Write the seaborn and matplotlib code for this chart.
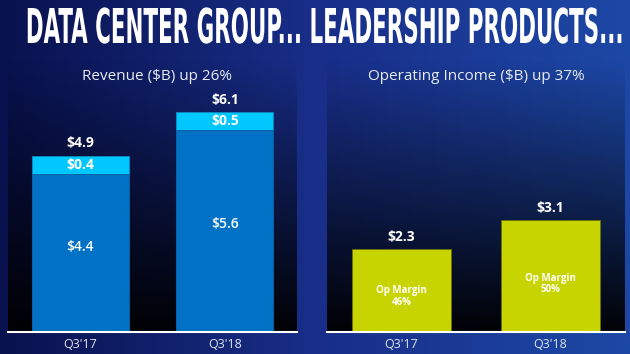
import numpy as np
import pandas as pd
import matplotlib
matplotlib.use("Agg")
import matplotlib.pyplot as plt
import seaborn as sns
from matplotlib.colors import to_rgb
from matplotlib.patheffects import AbstractPathEffect
from matplotlib.transforms import Affine2D

# ---- data ----
quarters = ["Q3'17", "Q3'18"]
revenue_total = [4.9, 6.1]
revenue_core = [4.4, 5.6]
revenue_adj = [0.4, 0.5]
op_income = [2.3, 3.1]
op_margin = [46, 50]

title = "DATA CENTER GROUP... LEADERSHIP PRODUCTS..."
rev_title = "Revenue ($B) up 26%"
op_title = "Operating Income ($B) up 37%"

# ---- style ----
plt.rcParams["font.family"] = ["Open Sans", "DejaVu Sans"]
DARK = "#0071C5"
LIGHT = "#00C7FD"
GREEN = "#C8D400"

W, H = 630, 354
fig = plt.figure(figsize=(W / 100, H / 100), dpi=100)
fig.patch.set_facecolor("#0d1a60")

# slide background gradient
bg = fig.add_axes([0, 0, 1, 1], zorder=-10)
xs = np.linspace(0, 1, 256)
stops = [0.0, 0.5, 1.0]
cols = np.array([to_rgb("#09124e"), to_rgb("#182e88"), to_rgb("#1d48a6")])
grad = np.stack([np.interp(xs, stops, cols[:, i]) for i in range(3)], axis=-1)
bg.imshow(np.tile(grad[None, :, :], (32, 1, 1)), aspect="auto", extent=[0, 1, 0, 1])
bg.set_axis_off()


def px_axes(x0, x1, ytop, ybot):
    return [x0 / W, 1 - ybot / H, (x1 - x0) / W, (ybot - ytop) / H]


YMAX = (332 - 60) / 36.0


def panel(ax):
    ax.patch.set_alpha(0)
    a = np.linspace(0, 0.97, 128)
    shade = np.zeros((128, 1, 4))
    shade[:, 0, 3] = a
    ax.imshow(shade, aspect="auto", extent=[-0.5, 1.5, 0, YMAX], zorder=0,
              origin="upper")


def finish(ax):
    ax.set_xlim(-0.5, 1.5)
    ax.set_ylim(0, YMAX)
    ax.set_xlabel("")
    ax.set_ylabel("")
    ax.set_yticks([])
    ax.set_xticks([0, 1])
    ax.set_xticklabels(quarters)
    ax.tick_params(axis="x", length=0, pad=4, labelsize=9, labelcolor="#dfe4ee")
    for s in ["left", "right", "top"]:
        ax.spines[s].set_visible(False)
    ax.spines["bottom"].set_color("white")
    ax.spines["bottom"].set_linewidth(1.5)
    ax.spines["bottom"].set_zorder(5)


# ---- revenue panel ----
ax1 = fig.add_axes(px_axes(8, 297, 60, 332))
panel(ax1)
rev_df = pd.DataFrame({"quarter": quarters, "total": revenue_total,
                       "core": revenue_core, "adj": revenue_adj})
sns.barplot(data=rev_df, x="quarter", y="total", color=LIGHT, saturation=1,
            width=0.67, ax=ax1, zorder=2, edgecolor="#0a8cc0", linewidth=0.6)
sns.barplot(data=rev_df, x="quarter", y="core", color=DARK, saturation=1,
            width=0.67, ax=ax1, zorder=3, edgecolor="#0b5a9a", linewidth=0.6)
finish(ax1)
for i in range(len(quarters)):
    ax1.annotate(f"${revenue_total[i]}", (i, revenue_total[i]), xytext=(0, 9),
                 textcoords="offset points", ha="center", va="center",
                 color="white", fontsize=10, fontweight="bold")
    ax1.text(i, (revenue_core[i] + revenue_total[i]) / 2, f"${revenue_adj[i]}",
             ha="center", va="center", color="white", fontsize=10,
             fontweight="bold", zorder=6)
    ax1.text(i, revenue_core[i] * 0.535, f"${revenue_core[i]}",
             ha="center", va="center", color="white", fontsize=10,
             fontweight="semibold", zorder=6)

# ---- operating income panel ----
ax2 = fig.add_axes(px_axes(327, 625, 60, 332))
panel(ax2)
op_df = pd.DataFrame({"quarter": quarters, "income": op_income,
                      "margin": op_margin})
sns.barplot(data=op_df, x="quarter", y="income", color=GREEN, saturation=1,
            width=0.67, ax=ax2, zorder=2, edgecolor="#6b7000", linewidth=0.6)
finish(ax2)
for i in range(len(quarters)):
    ax2.annotate(f"${op_income[i]}", (i, op_income[i]), xytext=(0, 9),
                 textcoords="offset points", ha="center", va="center",
                 color="white", fontsize=10, fontweight="bold")
    ax2.text(i, op_income[i] * 0.43, f"Op Margin\n{op_margin[i]}%",
             ha="center", va="center", color="white", fontsize=7,
             fontweight="bold", linespacing=1.1, zorder=6)


# ---- headline: condensed look via vertical stretch of the real text ----
class VStretch(AbstractPathEffect):
    def __init__(self, sy):
        super().__init__()
        self.sy = sy

    def draw_path(self, renderer, gc, tpath, affine, rgbFace=None):
        renderer.draw_path(gc, tpath, Affine2D().scale(1, self.sy) + affine, rgbFace)


head = fig.text(324 / W, 1 - 43 / H, title, ha="center", va="baseline",
                color="white", fontsize=20, fontweight="bold",
                fontstretch="condensed", family=["DejaVu Sans"])
fig.canvas.draw()
w = head.get_window_extent(fig.canvas.get_renderer()).width
size = 20 * 596.0 / w
head.set_fontsize(size)
cap_px = 0.729 * size * 100 / 72
head.set_path_effects([VStretch(35.0 / cap_px)])

fig.text(157 / W, 1 - 77 / H, rev_title, ha="center", va="center",
         color="#e8ecf4", fontsize=11)
fig.text(476 / W, 1 - 77 / H, op_title, ha="center", va="center",
         color="#e8ecf4", fontsize=11)

fig.savefig("out.png", dpi=100, facecolor=fig.get_facecolor())
